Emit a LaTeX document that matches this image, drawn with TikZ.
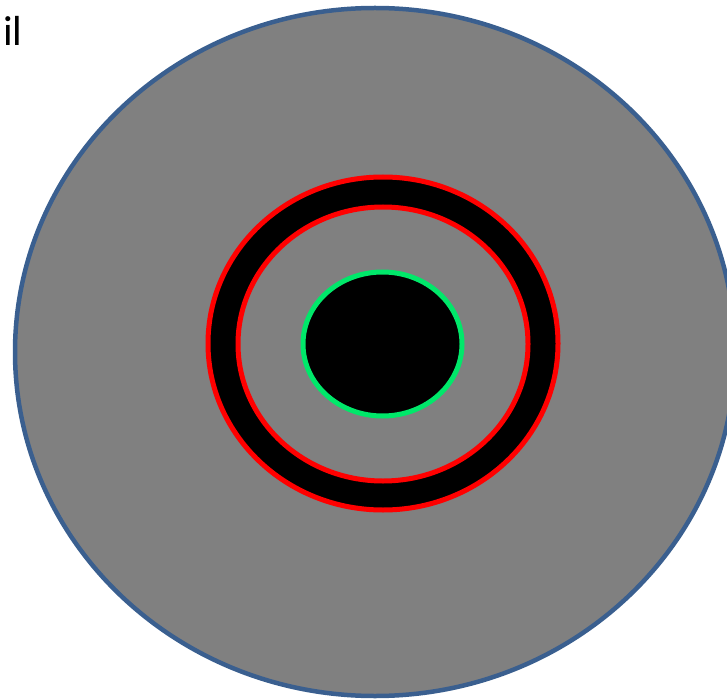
\documentclass[tikz,border=0pt]{standalone}
\usepackage{fontspec}
\setmainfont{Carlito}
\usepackage{tikz}
\definecolor{discblue}{RGB}{58,95,143}
\definecolor{hubgreen}{RGB}{0,232,106}
\tikzset{
  disc/.style={fill=gray, draw=discblue, line width=4.5pt},
  ring/.style={draw=red, line width=5pt},
  hub/.style={fill=black, draw=hubgreen, line width=5pt},
}
\begin{document}
\begin{tikzpicture}[x=1pt, y=-1pt]
  \useasboundingbox (0,0) rectangle (727,700);
  \clip (0,0) rectangle (727,700);
  % outer disc
  \draw[disc] (375,352) ellipse [x radius=360, y radius=344];
  % black band between the two red rings
  \draw[ring, fill=black] (383,343.5) ellipse [x radius=175, y radius=166.5];
  \draw[ring, fill=gray] (383,344) ellipse [x radius=145, y radius=137];
  % centre
  \draw[hub] (382.5,344) ellipse [x radius=79.5, y radius=72];
  \node[font=\fontsize{42}{50}\selectfont, anchor=west, inner sep=0pt] (tag) at (3,31) {il};
\end{tikzpicture}
\end{document}
